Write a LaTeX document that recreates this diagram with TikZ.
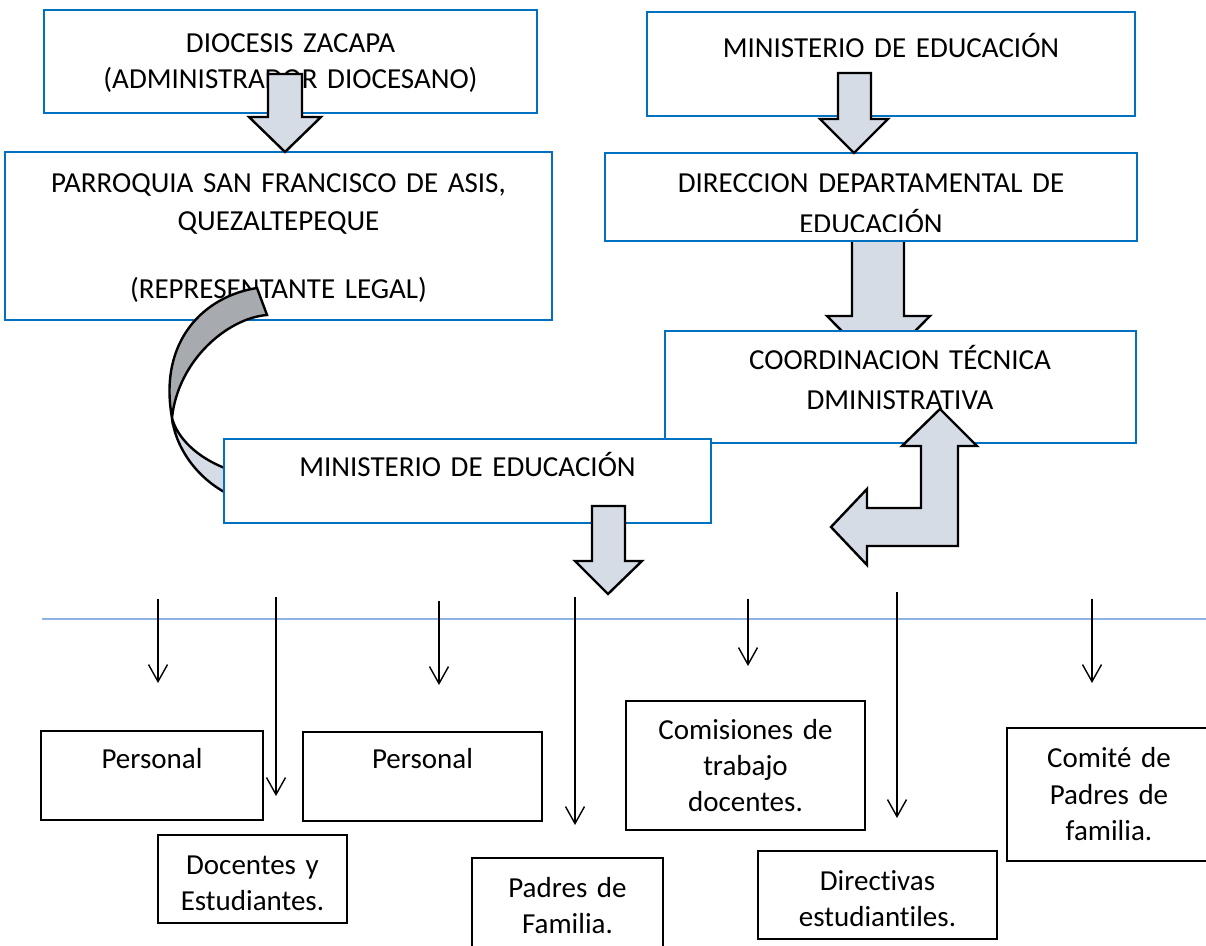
\documentclass[tikz,border=0pt]{standalone}
\usepackage{fontspec}
\setmainfont[Ligatures={NoCommon}]{Carlito}
\usetikzlibrary{fit,arrows.meta}
\definecolor{wblue}{HTML}{0070C0}
\definecolor{afill}{HTML}{D6DCE5}
\definecolor{agray}{HTML}{A7AAAF}
\definecolor{lineblue}{HTML}{8DB3E2}
\begin{document}
\begin{tikzpicture}[x=0.5pt,y=-0.5pt,
  bluebox/.style={draw=wblue,line width=1.35pt,fill=white,inner sep=0pt},
  blackbox/.style={draw=black,line width=1.2pt,fill=white,inner sep=0pt},
  blockarrow/.style={draw=black,line width=1.2pt,fill=afill,line join=miter},
  txt/.style={font=\fontsize{14.5}{18}\selectfont,inner sep=0pt,anchor=base,align=center,text width=#1},
  txt/.default=260pt,
  thinarrow/.style={draw=black,line width=0.7pt,-{Straight Barb[length=8.5pt,width=9.5pt]}}]
\useasboundingbox (0,0) rectangle (1206,946);
\fill[white] (0,0) rectangle (1206,946);

% --- top left column
\node[bluebox,fit={(44,10)(537,113)}] (b1) {};
\node[txt] (t1) at (290.5,53) {DIOCESIS ZACAPA\\(ADMINISTRADOR DIOCESANO)};
\node[bluebox,fit={(5,152)(552,320)}] (b2) {};
\node[txt,font=\fontsize{14.5}{19}\selectfont] (t2) at (278.5,193) {PARROQUIA SAN FRANCISCO DE ASIS,\\QUEZALTEPEQUE};
\node[txt] (t2b) at (278.5,299) {(REPRESENTANTE LEGAL)};
\draw[blockarrow] (268,74) -- (302,74) -- (302,117) -- (321,117) -- (285,152) -- (249,117) -- (268,117) -- cycle;

% --- top right column
\node[bluebox,fit={(647,12)(1135,116)}] (b3) {};
\node[txt] (t3) at (891,58) {MINISTERIO DE EDUCACIÓN};
\draw[blockarrow] (852,235) -- (904,235) -- (904,316) -- (930,316) -- (878.5,368) -- (827,316) -- (852,316) -- cycle;
\node[bluebox,fit={(605,153)(1137,241)}] (b5) {};
\node[txt] (t5) at (871,193) {DIRECCION DEPARTAMENTAL DE};
\begin{scope}
  \clip (610,150) rectangle (1130,231.5);
  \node[txt] (t5b) at (871,234) {EDUCACIÓN};
\end{scope}
\draw[blockarrow] (838,73) -- (871,73) -- (871,119) -- (888,119) -- (854,153) -- (820,119) -- (838,119) -- cycle;
\node[bluebox,fit={(665,331)(1136,443)}] (b6) {};
\node[txt,font=\fontsize{14.5}{20}\selectfont] (t6) at (900,370) {COORDINACION TÉCNICA\\DMINISTRATIVA};
\draw[blockarrow] (940,409) -- (977,446) -- (958,446) -- (958,546) -- (867,546) -- (867,565) -- (831,527) -- (867,489) -- (867,508) -- (921,508) -- (921,446) -- (902,446) -- cycle;

% --- curved arrow
\draw[line width=1.2pt,fill=agray,line join=miter] (257,288) .. controls (205,296) and (158,340) .. (172,418) .. controls (178,360) and (228,318) .. (267,315) -- cycle;
\draw[line width=1.2pt,fill=afill] (172,418) .. controls (175,445) and (195,478) .. (230,495) -- (230,470) .. controls (196,458) and (177,437) .. (172,418) -- cycle;

% --- middle box
\node[bluebox,fit={(224,439)(711,523)}] (b4) {};
\node[txt] (t4) at (467.5,477) {MINISTERIO DE EDUCACIÓN};
\draw[blockarrow] (592,506) -- (625,506) -- (625,561) -- (642,561) -- (608,594) -- (575,561) -- (592,561) -- cycle;

% --- horizontal line
\coordinate (l1) at (42,619);
\coordinate (l2) at (1206,619);
\draw[lineblue,line width=1pt] (l1) -- (l2);

% --- thin arrows
\coordinate (a1s) at (158,599); \coordinate (a1e) at (158,683);
\coordinate (a2s) at (276,597); \coordinate (a2e) at (276,796);
\coordinate (a3s) at (439,601); \coordinate (a3e) at (439,685);
\coordinate (a4s) at (575,597); \coordinate (a4e) at (575,825);
\coordinate (a5s) at (748,599); \coordinate (a5e) at (748,666);
\coordinate (a6s) at (897,592); \coordinate (a6e) at (897,818);
\coordinate (a7s) at (1092,599); \coordinate (a7e) at (1092,683);
\draw[thinarrow] (a1s) -- (a1e);
\draw[thinarrow] (a2s) -- (a2e);
\draw[thinarrow] (a3s) -- (a3e);
\draw[thinarrow] (a4s) -- (a4e);
\draw[thinarrow] (a5s) -- (a5e);
\draw[thinarrow] (a6s) -- (a6e);
\draw[thinarrow] (a7s) -- (a7e);

% --- bottom boxes
\node[blackbox,fit={(41,731)(263,820)}] (p1) {};
\node[txt=100pt] (tp1) at (152,769) {Personal};
\node[blackbox,fit={(158,835)(347,923)}] (d1) {};
\node[txt=100pt] (td1) at (252.5,874) {Docentes y\\Estudiantes.};
\node[blackbox,fit={(303,732)(542,821)}] (p2) {};
\node[txt=100pt] (tp2) at (422.5,769) {Personal};
\node[blackbox,fit={(472,858)(663,965)}] (pf) {};
\node[txt=100pt] (tpf) at (567.5,897) {Padres de\\Familia.};
\node[blackbox,fit={(626,701)(865,830)}] (cm) {};
\node[txt=110pt] (tcm) at (745.5,740) {Comisiones de\\trabajo\\docentes.};
\node[blackbox,fit={(758,851)(997,939)}] (de) {};
\node[txt=110pt] (tde) at (877.5,890) {Directivas\\estudiantiles.};
\node[blackbox,fit={(1007,728)(1212,861)}] (cp) {};
\node[txt=100pt] (tcp) at (1109,768) {Comité de\\Padres de\\familia.};
\end{tikzpicture}
\end{document}
